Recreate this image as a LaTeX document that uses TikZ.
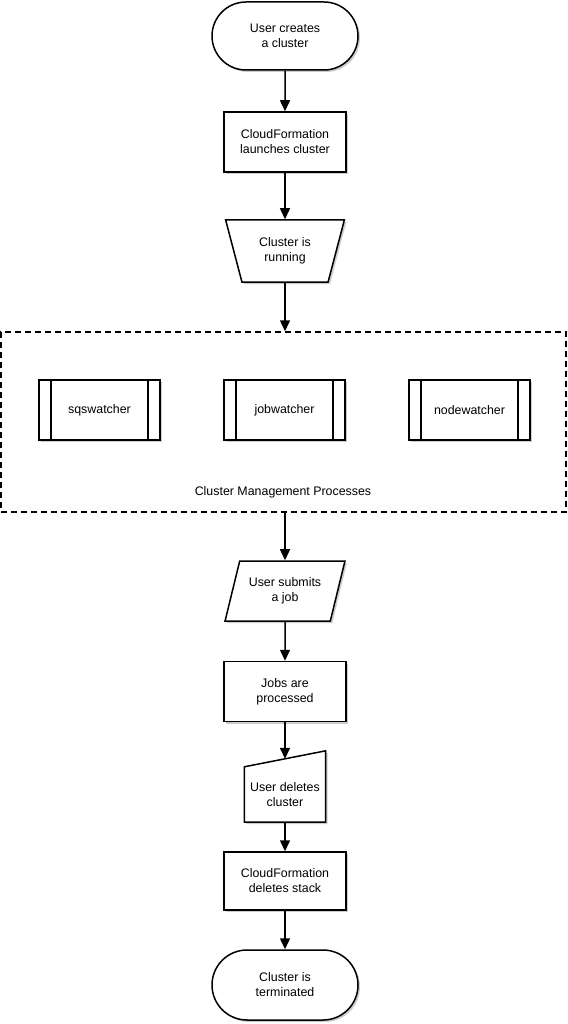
\documentclass[tikz,border=0pt]{standalone}
\usepackage{fontspec}
\setmainfont{Liberation Sans}
\usetikzlibrary{shapes.geometric,shapes.misc,arrows.meta,positioning,shadows,backgrounds}
\tikzstyle{base} = [draw,line width=1.5pt,fill=white,align=center,font=\fontsize{12.4}{15}\selectfont,inner sep=2pt,drop shadow={shadow xshift=2pt,shadow yshift=-2pt,fill=black!40,opacity=0.5}]
\tikzstyle{terminal} = [base,rounded rectangle,minimum width=150pt,minimum height=68pt]
\tikzstyle{process} = [base,rectangle,minimum width=122pt,minimum height=60pt]
\tikzstyle{manualop} = [base,trapezium,trapezium stretches=true,shape border rotate=180,trapezium left angle=71,trapezium right angle=71,minimum width=119pt,minimum height=62pt]
\tikzstyle{dataio} = [base,trapezium,trapezium stretches=true,trapezium left angle=68,trapezium right angle=112,minimum width=120pt,minimum height=60pt]
\tikzstyle{manualin} = [align=center,font=\fontsize{12.4}{15}\selectfont,inner sep=0,minimum width=81pt,minimum height=55pt]
\tikzstyle{subproc} = [process,minimum width=121pt,path picture={
  \draw[line width=1.5pt] ([xshift=12pt]path picture bounding box.north west) -- ([xshift=12pt]path picture bounding box.south west);
  \draw[line width=1.5pt] ([xshift=-12pt]path picture bounding box.north east) -- ([xshift=-12pt]path picture bounding box.south east);}]
\tikzstyle{group} = [draw,line width=1.5pt,dash pattern=on 6pt off 4pt,minimum width=565pt,minimum height=180pt,inner sep=0]
\tikzstyle{flow} = [-{Triangle[width=10pt,length=11pt]},line width=1.5pt]

\begin{document}
\begin{tikzpicture}[x=1pt,y=-1pt]
  \useasboundingbox (0,0) rectangle (567,1024);
  \node[terminal] (start) at (285,36) {User creates\\a cluster};
  \node[process] (launch) at (285,142) {CloudFormation\\launches cluster};
  \node[manualop] (running) at (285,251) {Cluster is\\running};
  \node[group] (mgmt) at (283.5,422) {};
  \node[subproc] (sqs) at (99.5,410) {sqswatcher};
  \node[subproc] (jobw) at (284.5,410) {jobwatcher};
  \node[subproc] (nodew) at (469.5,410) {nodewatcher};
  \node[font=\fontsize{12.4}{15}\selectfont] (mgmtlabel) at (283,492) {Cluster Management Processes};
  \node[dataio] (submit) at (285,591) {User submits\\a job};
  \node[process] (processed) at (285,691.5) {Jobs are\\processed};
  \node[manualin] (deletes) at (285,794.5) {User deletes\\cluster};
  \begin{scope}[on background layer]
    \draw[base] (deletes.south west) -- (deletes.south east) -- ([yshift=16pt]deletes.north east) -- (deletes.north west) -- cycle;
  \end{scope}
  \coordinate (deltop) at ([yshift=8pt]deletes.north);
  \node[process,minimum height=58pt] (stack) at (285,881) {CloudFormation\\deletes stack};
  \node[terminal,minimum height=70pt] (finish) at (285,985) {Cluster is\\terminated};

  \draw[flow] (start) -- (launch);
  \draw[flow] (launch) -- (running);
  \draw[flow] (running.south) -- (running.south |- mgmt.north);
  \draw[flow] (submit.north |- mgmt.south) -- (submit.north);
  \draw[flow] (submit) -- (processed);
  \draw[flow] (processed) -- (deltop);
  \draw[flow] (deletes) -- (stack);
  \draw[flow] (stack) -- (finish);
\end{tikzpicture}
\end{document}
